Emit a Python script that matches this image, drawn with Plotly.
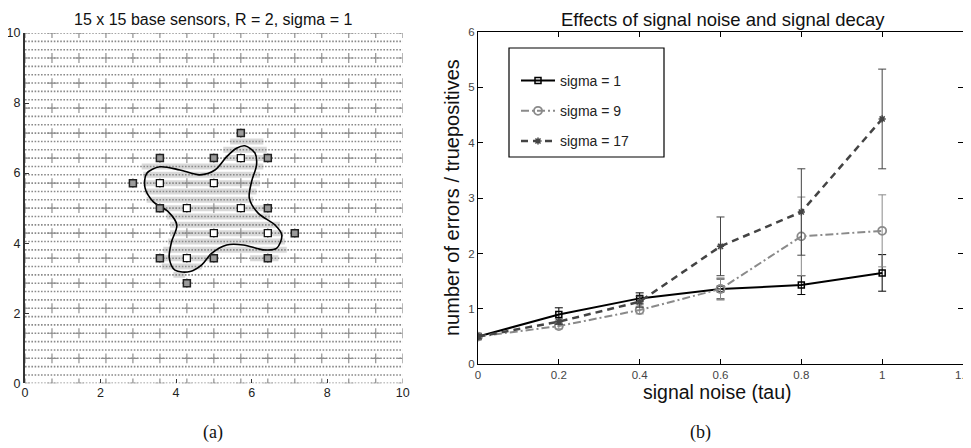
import numpy as np
import plotly.graph_objects as go

# page is offset by the browser's default 8px body margin
OFF = 8
W, H = 971 - OFF, 448 - OFF


def px(x):
    return (x - OFF) / W


def py(y):
    return 1 - (y - OFF) / H


# ---------------- Panel (a) data ----------------
n_base = 15                 # 15 x 15 base sensors on [0, 10]
n_rows = 43                 # fine dotted sensor rows (3 per base spacing)
extent = 10.0

# flower boundary, closed
curve_x = [5.82, 6.09, 6.13, 6.00, 5.94, 6.18, 6.62, 6.80, 6.66, 6.31, 5.78, 5.34, 4.94, 4.68,
           4.37, 3.97, 3.82, 3.88, 4.02, 3.79, 3.40, 3.18, 3.22, 3.57, 4.10, 4.63, 5.03, 5.34,
           5.60, 5.82]
curve_y = [6.78, 6.57, 6.23, 5.76, 5.28, 4.85, 4.52, 4.23, 3.85, 3.81, 3.95, 3.95, 3.71, 3.38,
           3.19, 3.23, 3.57, 4.04, 4.52, 4.90, 5.18, 5.57, 5.99, 6.18, 6.09, 5.95, 6.09, 6.47,
           6.71, 6.78]

# shaded (detected) rows: row index k (y = k*10/42), x start, x end
stripe_k = [29, 28, 27, 26, 25, 24, 23, 22, 21, 20, 19, 18, 17, 16, 15, 15, 14, 13]
stripe_x0 = [5.43, 5.25, 5.30, 3.09, 3.13, 3.13, 3.18, 3.22, 3.66, 3.75, 3.84, 3.84, 3.79, 3.66,
             3.62, 5.96, 3.62, 3.93]
stripe_x1 = [6.31, 6.40, 6.31, 6.31, 6.22, 6.22, 6.13, 6.04, 6.31, 6.49, 6.75, 6.84, 6.88, 6.93,
             4.90, 6.71, 4.68, 4.24]

# cluster-head squares (grid indices i, j)
sq_in_i = [5, 7, 8, 6, 8, 7, 9, 6]
sq_in_j = [8, 8, 9, 7, 7, 6, 6, 5]
sq_out_i = [8, 5, 7, 9, 4, 5, 9, 10, 5, 7, 9, 6]
sq_out_j = [10, 9, 9, 9, 8, 7, 7, 6, 5, 5, 5, 4]

# ---------------- Panel (b) data ----------------
tau = [0, 0.2, 0.4, 0.6, 0.8, 1.0]
s1 = [0.50, 0.90, 1.19, 1.36, 1.43, 1.65]
s1_err = [0.04, 0.12, 0.10, 0.18, 0.17, 0.33]
s9 = [0.50, 0.69, 0.98, 1.36, 2.31, 2.41]
s9_err = [0.04, 0.05, 0.07, 0.20, 0.71, 0.65]
s17 = [0.50, 0.77, 1.13, 2.13, 2.75, 4.43]
s17_err = [0.04, 0.05, 0.10, 0.53, 0.78, 0.90]

fig = go.Figure()

base_step = extent / (n_base - 1)
row_step = extent / (n_rows - 1)

# shaded stripes
sx, sy = [], []
for k, a, b in zip(stripe_k, stripe_x0, stripe_x1):
    sx += [a, b, None]
    sy += [k * row_step, k * row_step, None]
fig.add_trace(go.Scatter(x=sx, y=sy, mode="lines", line=dict(color="#d9d9d9", width=6),
                         xaxis="x", yaxis="y", showlegend=False, hoverinfo="skip"))

# dotted rows
dx, dy = [], []
for k in range(n_rows):
    dx += [0, extent, None]
    dy += [k * row_step, k * row_step, None]
fig.add_trace(go.Scatter(x=dx, y=dy, mode="lines",
                         line=dict(color="#8a8a8a", width=1.6, dash="1.6px,1.6px"),
                         xaxis="x", yaxis="y", showlegend=False, hoverinfo="skip"))

# base sensors
gx, gy = np.meshgrid(np.arange(n_base) * base_step, np.arange(n_base) * base_step)
fig.add_trace(go.Scatter(x=gx.ravel(), y=gy.ravel(), mode="markers",
                         marker=dict(symbol="cross-thin", size=7, line=dict(color="#8f8f8f", width=1.2)),
                         xaxis="x", yaxis="y", showlegend=False, hoverinfo="skip"))

# boundary curve
fig.add_trace(go.Scatter(x=curve_x, y=curve_y, mode="lines",
                         line=dict(color="black", width=1.6, shape="spline", smoothing=0.9),
                         xaxis="x", yaxis="y", showlegend=False, hoverinfo="skip"))

# squares
fig.add_trace(go.Scatter(x=[i * base_step for i in sq_out_i], y=[j * base_step for j in sq_out_j], mode="markers",
                         marker=dict(symbol="square", size=7, color="#9a9a9a", line=dict(color="#222", width=1.5)),
                         xaxis="x", yaxis="y", showlegend=False, hoverinfo="skip"))
fig.add_trace(go.Scatter(x=[i * base_step for i in sq_in_i], y=[j * base_step for j in sq_in_j], mode="markers",
                         marker=dict(symbol="square", size=7, color="white", line=dict(color="#111", width=1.3)),
                         xaxis="x", yaxis="y", showlegend=False, hoverinfo="skip"))

# ---- panel (b) ----
fig.add_trace(go.Scatter(x=tau, y=s1, name="sigma = 1", mode="lines+markers",
                         line=dict(color="black", width=2),
                         marker=dict(symbol="square-open", size=6, color="black", line=dict(width=1.5)),
                         error_y=dict(type="data", array=s1_err, color="black", thickness=1, width=4),
                         xaxis="x2", yaxis="y2", legendgroup="a"))
fig.add_trace(go.Scatter(x=tau, y=s9, name="sigma = 9", mode="lines+markers",
                         line=dict(color="#8a8a8a", width=2, dash="8px,3px,2px,3px"),
                         marker=dict(symbol="circle-open", size=8, color="#8a8a8a", line=dict(width=1.8)),
                         error_y=dict(type="data", array=s9_err, color="#8a8a8a", thickness=1, width=4),
                         xaxis="x2", yaxis="y2", legendgroup="b"))
fig.add_trace(go.Scatter(x=tau, y=s17, name="sigma = 17", mode="lines+markers",
                         line=dict(color="#444444", width=2.5, dash="7px,5px"),
                         marker=dict(symbol="asterisk-open", size=6, color="#444444", line=dict(width=1.5)),
                         error_y=dict(type="data", array=s17_err, color="#444444", thickness=1, width=4),
                         xaxis="x2", yaxis="y2", legendgroup="c"))

font = "Liberation Sans, Arial, sans-serif"

fig.update_layout(
    width=W, height=H,
    margin=dict(l=0, r=0, t=0, b=0, autoexpand=False),
    paper_bgcolor="white", plot_bgcolor="white",
    font=dict(family=font, color="#222", size=11),
    xaxis=dict(domain=[px(25), px(402.7)], range=[0, 10], tickvals=[0, 2, 4, 6, 8, 10],
               ticks="inside", ticklen=4, tickcolor="#333", showline=False, showgrid=False,
               zeroline=False, tickfont=dict(size=12.5, color="#222"), anchor="y", automargin=False),
    yaxis=dict(domain=[py(383.3), py(33)], range=[0, 10], tickvals=[0, 2, 4, 6, 8, 10],
               ticks="inside", ticklen=4, tickcolor="#333", showline=True, linecolor="#333", linewidth=2,
               showgrid=False, zeroline=False, tickfont=dict(size=12.5, color="#222"), anchor="x",
               automargin=False),
    xaxis2=dict(domain=[px(478), px(963)], range=[0, 1.2], dtick=0.2, ticks="inside", ticklen=5,
                tickcolor="black", showline=True, linecolor="black", linewidth=1, mirror="ticks",
                showgrid=False, zeroline=False, tickfont=dict(size=11.5, color="#444"), anchor="y2",
                automargin=False),
    yaxis2=dict(domain=[py(364.3), py(32)], range=[0, 6], dtick=1, ticks="inside", ticklen=5,
                tickcolor="black", showline=True, linecolor="black", linewidth=1, mirror="ticks",
                showgrid=False, zeroline=False, tickfont=dict(size=11.5, color="#444"), anchor="x2",
                automargin=False),
    legend=dict(x=px(516), y=py(65), xanchor="left", yanchor="top",
                borderwidth=0, bgcolor="rgba(0,0,0,0)",
                font=dict(size=14, color="#222"), tracegroupgap=9, itemwidth=34),
    showlegend=True,
)

# legend frame
fig.add_shape(type="rect", xref="paper", yref="paper", x0=px(509), x1=px(664),
              y0=py(157), y1=py(48), line=dict(color="black", width=1.2),
              fillcolor="rgba(0,0,0,0)", layer="above")

ann = [
    dict(text="15 x 15 base sensors, R = 2, sigma = 1", x=px(213), y=py(20), size=16, ang=0, fam=font),
    dict(text="Effects of signal noise and signal decay", x=px(723), y=py(20), size=18.5, ang=0, fam=font),
    dict(text="signal noise (tau)", x=px(717), y=py(392), size=19.5, ang=0, fam=font),
    dict(text="number of errors / truepositives", x=px(452), y=py(198), size=20, ang=-90, fam=font),
    dict(text="(a)", x=px(213), y=py(432), size=18, ang=0, fam="Liberation Serif, DejaVu Serif, serif"),
    dict(text="(b)", x=px(700), y=py(432), size=18, ang=0, fam="Liberation Serif, DejaVu Serif, serif"),
]
for a in ann:
    fig.add_annotation(text=a["text"], x=a["x"], y=a["y"], xref="paper", yref="paper",
                       showarrow=False, xanchor="center", yanchor="middle", textangle=a["ang"],
                       font=dict(size=a["size"], family=a["fam"], color="#111"))

fig.write_html("out.html")
